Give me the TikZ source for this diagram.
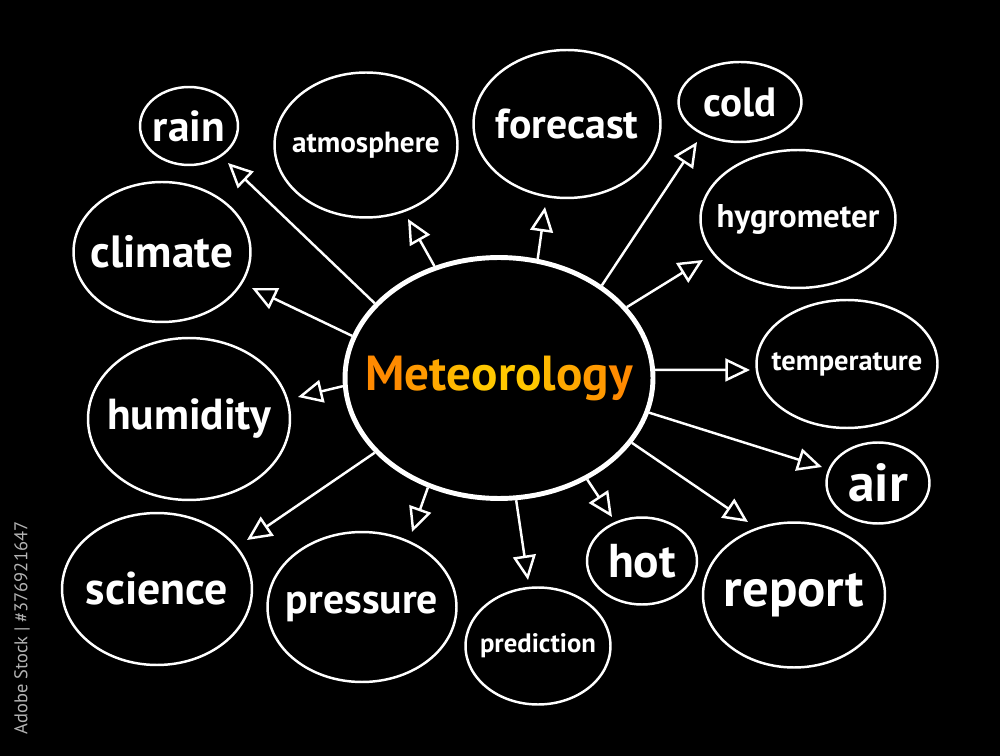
\documentclass[tikz,border=0pt]{standalone}
\usepackage{fontspec}
\setmainfont{PT Sans}
\usetikzlibrary{arrows.meta,shapes.geometric}
\definecolor{MetOrange}{HTML}{FF8A00}
\definecolor{MetAmber}{HTML}{FFA800}
\definecolor{MetYellow}{HTML}{FFC800}
\definecolor{StampGray}{HTML}{B4B4B4}
\tikzset{
  bubble/.style={ellipse, draw=white, line width=1.4pt, inner sep=0pt},
  hub/.style={ellipse, draw=white, line width=2.8pt, inner sep=0pt},
  tag/.style={font=\fontsize{#1}{#1}\selectfont\bfseries, text=white},
  link/.style={-{Triangle[open, length=14pt, width=13pt]}, white, line width=1.4pt},
}

\begin{document}
\begin{tikzpicture}[x=0.02cm, y=-0.02cm]
    \fill[black] (0,0) rectangle (1000,756);
    % centre
    \node[hub, minimum width=6.16cm, minimum height=4.82cm,
      label={[tag=28]center:%
      \textcolor{MetOrange}{M}\textcolor{MetOrange!50!MetAmber}{e}\textcolor{MetAmber}{t}%
      \textcolor{MetAmber!50!MetYellow}{e}\textcolor{MetYellow}{o}\textcolor{MetYellow}{r}%
      \textcolor{MetYellow}{o}\textcolor{MetYellow!50!MetAmber}{l}\textcolor{MetAmber}{o}%
      \textcolor{MetAmber!50!MetOrange}{g}\textcolor{MetOrange}{y}}] (met) at (499,378) {};
    % leaves
    \node[bubble, minimum width=1.96cm, minimum height=1.56cm, label={[tag=24.7]center:rain}] (rain) at (189,126) {};
    \node[bubble, minimum width=3.66cm, minimum height=2.9cm, label={[tag=16.6]center:atmosphere}] (atmosphere) at (366,145) {};
    \node[bubble, minimum width=3.74cm, minimum height=2.96cm, label={[tag=23.8]center:forecast}] (forecast) at (567,124) {};
    \node[bubble, minimum width=2.46cm, minimum height=1.6cm, label={[tag=23.3]center:cold}] (cold) at (740,102) {};
    \node[bubble, minimum width=3.9cm, minimum height=2.76cm, label={[tag=18.7]center:hygrometer}] (hygrometer) at (798,219) {};
    \node[bubble, minimum width=3.54cm, minimum height=2.8cm, label={[tag=25.7]center:climate}] (climate) at (162,252) {};
    \node[bubble, minimum width=3.62cm, minimum height=2.56cm, label={[tag=16.2]center:temperature}] (temperature) at (847,364) {};
    \node[bubble, minimum width=4.04cm, minimum height=3.24cm, label={[tag=24.7]center:humidity}] (humidity) at (189,419) {};
    \node[bubble, minimum width=2.06cm, minimum height=1.62cm, label={[tag=30.4]center:air}] (air) at (878,483) {};
    \node[bubble, minimum width=3.8cm, minimum height=3.04cm, label={[tag=26.1]center:science}] (science) at (157,589) {};
    \node[bubble, minimum width=3.78cm, minimum height=3.0cm, label={[tag=23.8]center:pressure}] (pressure) at (362,607) {};
    \node[bubble, minimum width=2.9cm, minimum height=2.34cm, label={[tag=15.2]center:prediction}] (prediction) at (538,646) {};
    \node[bubble, minimum width=2.2cm, minimum height=1.74cm, label={[tag=27]center:hot}] (hot) at (642,561) {};
    \node[bubble, minimum width=3.64cm, minimum height=2.9cm, label={[tag=30]center:report}] (report) at (794,595) {};
    % arrow tips
    \coordinate (t-rain) at (228,163);
    \coordinate (t-atmosphere) at (408,219);
    \coordinate (t-forecast) at (545,207);
    \coordinate (t-cold) at (697,142);
    \coordinate (t-hygrometer) at (703,260);
    \coordinate (t-climate) at (252,288);
    \coordinate (t-temperature) at (750,370);
    \coordinate (t-humidity) at (298,397);
    \coordinate (t-air) at (822,467);
    \coordinate (t-science) at (247,540);
    \coordinate (t-pressure) at (412,532);
    \coordinate (t-prediction) at (528,580);
    \coordinate (t-hot) at (612,517);
    \coordinate (t-report) at (748,522);
    \draw[link] (met.149.9) -- (t-rain);
    \draw[link] (met.120.7) -- (t-atmosphere);
    \draw[link] (met.72.6) -- (t-forecast);
    \draw[link] (met.42.2) -- (t-cold);
    \draw[link] (met.29.2) -- (t-hygrometer);
    \draw[link] (met.164.7) -- (t-climate);
    \draw[link] (met.3.3) -- (t-temperature);
    \draw[link] (met.183.3) -- (t-humidity);
    \draw[link] (met.-13) -- (t-air);
    \draw[link] (met.211.5) -- (t-science);
    \draw[link] (met.237) -- (t-pressure);
    \draw[link] (met.278) -- (t-prediction);
    \draw[link] (met.311) -- (t-hot);
    \draw[link] (met.334) -- (t-report);
    % stock stamp
    \node[rotate=90, text=StampGray, font=\fontsize{10.5}{11}\selectfont] (stamp) at (22,628) {Adobe Stock | \#376921647};
  \end{tikzpicture}
\end{document}
